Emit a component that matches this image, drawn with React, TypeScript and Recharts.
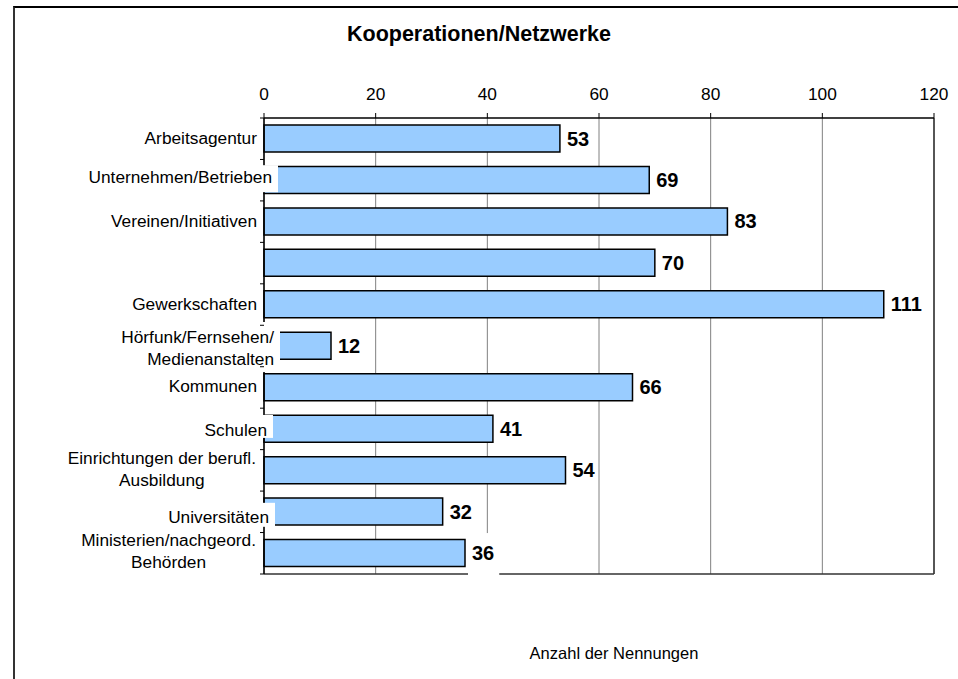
import React from 'react';
import { BarChart, Bar, XAxis, YAxis, CartesianGrid, LabelList } from 'recharts';

const categories = [
  'Arbeitsagentur',
  'Unternehmen/Betrieben',
  'Vereinen/Initiativen',
  '',
  'Gewerkschaften',
  'Hörfunk/Fernsehen/\nMedienanstalten',
  'Kommunen',
  'Schulen',
  'Einrichtungen der berufl.\nAusbildung',
  'Universitäten',
  'Ministerien/nachgeord.\nBehörden',
];
const values = [53, 69, 83, 70, 111, 12, 66, 41, 54, 32, 36];
const xTicks = [0, 20, 40, 60, 80, 100, 120];
const title = 'Kooperationen/Netzwerke';
const xAxisTitle = 'Anzahl der Nennungen';

const data = categories.map((name, i) => ({ name, value: values[i] }));

const FONT = '"Liberation Sans", Arial, Helvetica, sans-serif';
const W = 958;
const H = 679;
const X_AXIS_H = 30;
const MARGIN = { top: 118 - X_AXIS_H, right: 24, bottom: 105, left: 0 };
const PLOT_H = H - 118 - MARGIN.bottom;
const BAND = PLOT_H / categories.length;

let ctx: CanvasRenderingContext2D | null = null;
function measure(text: string, size: number, bold = false): number {
  if (!ctx) {
    const c = document.createElement('canvas');
    ctx = c.getContext('2d');
  }
  if (!ctx) return text.length * size * 0.55;
  ctx.font = `${bold ? 'bold ' : ''}${size}px "Liberation Sans", Arial, sans-serif`;
  return ctx.measureText(text).width;
}

type TickLayout = {
  end: number;
  dy: number;
  align?: 'end' | 'center';
  box?: { right: number; top: number; bottom: number };
};
const tickLayouts: Record<number, TickLayout> = {
  1: { end: 8, dy: -3, box: { right: 14, top: -15, bottom: 12 } },
  5: { end: 10, dy: 2, align: 'end', box: { right: 16, top: -24, bottom: 26 } },
  7: { end: 3, dy: 1, box: { right: 9, top: -14, bottom: 9 } },
  8: { end: -8, dy: -1, align: 'center' },
  9: { end: 5, dy: 5, box: { right: 11, top: -9, bottom: 15 } },
  10: { end: -8, dy: -2, align: 'center' },
};

const CAT_SIZE = 17.3;

const CategoryTick = (props: any) => {
  const { x, y, payload, index } = props;
  const label: string = String(payload?.value ?? '');
  const lay: TickLayout = tickLayouts[index] ?? { end: -7, dy: -1 };
  const lines = label.split('\n');
  const lineH = 22;
  const endX = x + lay.end;
  const widths = lines.map((l) => measure(l, CAT_SIZE));
  const maxW = Math.max(0, ...widths);
  const cy = y + lay.dy;
  const firstCenter = cy - ((lines.length - 1) * lineH) / 2;
  const isLast = index === categories.length - 1;
  return (
    <g>
      {lay.box && (
        <rect
          x={endX - maxW - 4}
          y={y + lay.box.top}
          width={x + lay.box.right - (endX - maxW - 4)}
          height={lay.box.bottom - lay.box.top}
          fill="#fff"
        />
      )}
      <line x1={x - 4} x2={x} y1={y - BAND / 2} y2={y - BAND / 2} stroke="#000" strokeWidth={1} />
      {isLast && <line x1={x - 4} x2={x} y1={y + BAND / 2} y2={y + BAND / 2} stroke="#000" strokeWidth={1} />}
      {lines.map((l, i) => {
        const ly = firstCenter + i * lineH + 6;
        if (lay.align === 'center') {
          return (
            <text key={i} x={endX - maxW / 2} y={ly} textAnchor="middle" fontSize={CAT_SIZE} fontFamily={FONT} fill="#000">
              {l}
            </text>
          );
        }
        return (
          <text key={i} x={endX} y={ly} textAnchor="end" fontSize={CAT_SIZE} fontFamily={FONT} fill="#000">
            {l}
          </text>
        );
      })}
    </g>
  );
};

const ValueLabel = (props: any) => {
  const { x, y, width, height, value, index } = props;
  const tx = Number(x) + Number(width) + 7;
  const cy = Number(y) + Number(height) / 2;
  const txt = String(value);
  const tw = measure(txt, 20, true);
  const boxed = index === values.length - 1;
  return (
    <g>
      {boxed && <rect x={tx - 4} y={cy - 20} width={tw + 9} height={43} fill="#fff" />}
      <text x={tx} y={cy + 7} fontSize={20} fontWeight="bold" fontFamily={FONT} fill="#000">
        {txt}
      </text>
    </g>
  );
};

const XTick = (props: any) => {
  const { x, payload } = props;
  return (
    <text x={x} y={100} textAnchor="middle" fontSize={17.3} fontFamily={FONT} fill="#000">
      {payload?.value}
    </text>
  );
};

export default function App() {
  return (
    <div style={{ position: 'absolute', left: 0, top: 0, width: W, height: H, background: '#fff', overflow: 'hidden' }}>
      <div
        style={{
          position: 'absolute',
          left: 13,
          top: 6,
          width: W - 13,
          height: H - 6,
          borderLeft: '2px solid #333',
          borderTop: '2px solid #000',
          boxSizing: 'border-box',
        }}
      />
      <div style={{ position: 'absolute', left: 0, top: 0 }}>
        <BarChart width={W} height={H} data={data} layout="vertical" margin={MARGIN}>
          <CartesianGrid horizontal={false} stroke="#808080" strokeWidth={1} />
          <CartesianGrid
            vertical={false}
            stroke="#333"
            strokeWidth={1.5}
            horizontalCoordinatesGenerator={({ offset }: any) => [offset.top + offset.height]}
          />
          <CartesianGrid
            horizontal={false}
            stroke="#333"
            strokeWidth={1.5}
            verticalCoordinatesGenerator={({ offset }: any) => [offset.left + offset.width]}
          />
          <XAxis
            type="number"
            orientation="top"
            domain={[0, 120]}
            ticks={xTicks}
            height={X_AXIS_H}
            tickSize={5}
            tickMargin={4}
            axisLine={{ stroke: '#000', strokeWidth: 1.5 }}
            tickLine={{ stroke: '#000' }}
            tick={XTick}
            interval={0}
          />
          <Bar dataKey="value" fill="#99CCFF" stroke="#000" strokeWidth={1.5} barSize={27} isAnimationActive={false}>
            <LabelList dataKey="value" content={ValueLabel} />
          </Bar>
          <YAxis
            type="category"
            dataKey="name"
            width={264}
            tickSize={0}
            tickMargin={0}
            interval={0}
            axisLine={{ stroke: '#000', strokeWidth: 1.5 }}
            tickLine={false}
            tick={CategoryTick}
          />
          <text x={479} y={41} textAnchor="middle" fontSize={21.5} fontWeight="bold" fontFamily={FONT} fill="#000">
            {title}
          </text>
          <text x={614} y={659} textAnchor="middle" fontSize={16.5} fontFamily={FONT} fill="#000">
            {xAxisTitle}
          </text>
        </BarChart>
      </div>
    </div>
  );
}
